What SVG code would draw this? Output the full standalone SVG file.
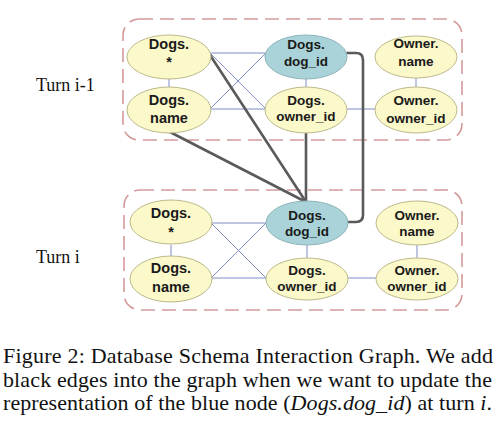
<svg xmlns="http://www.w3.org/2000/svg" width="503" height="433" viewBox="0 0 503 433">
<style>
.box{fill:none;stroke:#D49A9A;stroke-width:1.6;stroke-dasharray:14 7}
.n{fill:#FBF8C9;stroke:#BDB98C;stroke-width:1}
.b{fill:#A9D3D8;stroke:#8DB3B8;stroke-width:1}
.t{font-family:"Liberation Sans",Arial,sans-serif;font-weight:bold;fill:#1a1a1a;text-anchor:middle}
.l{font-size:14.5px}
.m{font-size:13.5px}
.e{stroke:#7F8DC8;stroke-width:1;fill:none}
.k{stroke:#5A5A5A;stroke-width:2.6;fill:none;stroke-linecap:round;stroke-linejoin:round}
.lab{font-family:"Liberation Serif","Times New Roman",serif;font-size:18px;fill:#111}
.cap{font-family:"Liberation Serif","Times New Roman",serif;font-size:22px;fill:#111}
</style>
<rect class="box" x="123" y="19" width="339" height="121" rx="16"/>
<rect class="box" x="124" y="190" width="338" height="120" rx="16"/>
<text class="lab" x="36" y="91">Turn i-1</text>
<text class="lab" x="36" y="263">Turn i</text>
<g id="connectors">
<line class="e" x1="169" y1="78" x2="169" y2="88"/>
<line class="e" x1="306" y1="78" x2="306" y2="88"/>
<line class="e" x1="416" y1="78" x2="416" y2="88"/>
<line class="e" x1="210" y1="53" x2="266" y2="53"/>
<line class="e" x1="210" y1="53" x2="266" y2="109"/>
<line class="e" x1="210" y1="109" x2="266" y2="53"/>
<line class="e" x1="210" y1="109" x2="266" y2="109"/>
<line class="e" x1="347" y1="109" x2="375" y2="109"/>
<line class="e" x1="171" y1="245" x2="171" y2="257"/>
<line class="e" x1="307" y1="245" x2="307" y2="258"/>
<line class="e" x1="417" y1="245" x2="417" y2="258"/>
<line class="e" x1="211" y1="223" x2="266" y2="223"/>
<line class="e" x1="211" y1="223" x2="266" y2="278"/>
<line class="e" x1="211" y1="278" x2="266" y2="223"/>
<line class="e" x1="211" y1="278" x2="266" y2="278"/>
<line class="e" x1="348" y1="278" x2="376" y2="278"/>
<line class="k" x1="210" y1="55" x2="306" y2="202"/>
<line class="k" x1="168" y1="131" x2="306" y2="202"/>
<line class="k" x1="306" y1="132" x2="306" y2="202"/>
<path class="k" d="M347,53 L356,53 Q363,53 363,60 L363,215 Q363,222 356,222 L348,222"/>
</g>
<g id="n-dogs-star-prev"><ellipse class="n" cx="169" cy="57" rx="42" ry="22"/><text class="t l" x="169" y="49">Dogs.</text><text class="t l" x="169" y="67">*</text></g>
<g id="n-dogs-name-prev"><ellipse class="n" cx="169" cy="110" rx="42" ry="23"/><text class="t l" x="169" y="105">Dogs.</text><text class="t l" x="169" y="123">name</text></g>
<g id="n-dogs-dogid-prev"><ellipse class="b" cx="306" cy="57" rx="41" ry="22"/><text class="t m" x="306" y="49">Dogs.</text><text class="t m" x="306" y="66">dog_id</text></g>
<g id="n-dogs-ownerid-prev"><ellipse class="n" cx="306" cy="110" rx="41" ry="23"/><text class="t m" x="306" y="105">Dogs.</text><text class="t m" x="306" y="121">owner_id</text></g>
<g id="n-owner-name-prev"><ellipse class="n" cx="416" cy="57" rx="41" ry="21"/><text class="t m" x="416" y="48">Owner.</text><text class="t m" x="416" y="66">name</text></g>
<g id="n-owner-ownerid-prev"><ellipse class="n" cx="416" cy="110" rx="41" ry="23"/><text class="t m" x="416" y="105">Owner.</text><text class="t m" x="416" y="123">owner_id</text></g>
<g id="n-dogs-star"><ellipse class="n" cx="171" cy="222" rx="41" ry="22"/><text class="t l" x="171" y="218">Dogs.</text><text class="t l" x="171" y="237">*</text></g>
<g id="n-dogs-name"><ellipse class="n" cx="171" cy="279" rx="41" ry="23"/><text class="t l" x="171" y="273">Dogs.</text><text class="t l" x="171" y="292">name</text></g>
<g id="n-dogs-dogid"><ellipse class="b" cx="307" cy="223" rx="41" ry="22"/><text class="t m" x="307" y="220">Dogs.</text><text class="t m" x="307" y="236">dog_id</text></g>
<g id="n-dogs-ownerid"><ellipse class="n" cx="307" cy="279" rx="41" ry="21"/><text class="t m" x="307" y="275">Dogs.</text><text class="t m" x="307" y="291">owner_id</text></g>
<g id="n-owner-name"><ellipse class="n" cx="417" cy="223" rx="41" ry="22"/><text class="t m" x="417" y="220">Owner.</text><text class="t m" x="417" y="236">name</text></g>
<g id="n-owner-ownerid"><ellipse class="n" cx="417" cy="279" rx="41" ry="21"/><text class="t m" x="417" y="275">Owner.</text><text class="t m" x="417" y="291">owner_id</text></g>
<text class="cap" x="3" y="363" textLength="490" lengthAdjust="spacing">Figure 2: Database Schema Interaction Graph. We add</text>
<text class="cap" x="3" y="387" textLength="489" lengthAdjust="spacing">black edges into the graph when we want to update the</text>
<text class="cap" x="3" y="410" textLength="489" lengthAdjust="spacing">representation of the blue node (<tspan font-style="italic">Dogs.dog_id</tspan>) at turn <tspan font-style="italic">i</tspan>.</text>
</svg>
